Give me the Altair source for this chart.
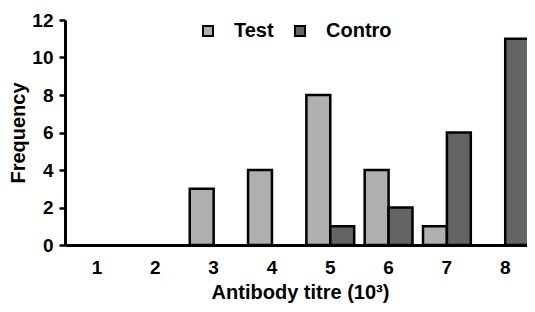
import altair as alt
import pandas as pd

categories = ["1", "2", "3", "4", "5", "6", "7", "8"]
test_values = [0, 0, 3, 4, 8, 4, 1, 0]
control_values = [0, 0, 0, 0, 1, 2, 6, 11]
series_names = ["Test", "Contro"]
series_colors = ["#afafaf", "#646464"]
y_ticks = [0, 2, 4, 6, 8, 10, 12]

rows = []
for c, t, k in zip(categories, test_values, control_values):
    rows.append({"titre": c, "group": series_names[0], "freq": t})
    rows.append({"titre": c, "group": series_names[1], "freq": k})
df = pd.DataFrame(rows)

FONT = "Liberation Sans"

chart = alt.Chart(df).transform_filter(
    alt.datum.freq > 0
).mark_bar(stroke="black", strokeWidth=2.5).encode(
    x=alt.X("titre:N", sort=categories,
            scale=alt.Scale(domain=categories, range=[0, 470], paddingInner=0.18,
                            paddingOuter=0.12, align=0.58),
            axis=alt.Axis(title="Antibody titre (10³)", labelAngle=0, ticks=False,
                          labelPadding=13, titlePadding=5)),
    xOffset=alt.XOffset("group:N", sort=series_names,
                        scale=alt.Scale(domain=series_names, paddingInner=0, paddingOuter=0)),
    y=alt.Y("freq:Q", scale=alt.Scale(domain=[0, 12], nice=False),
            axis=alt.Axis(title="Frequency", values=y_ticks, grid=False,
                          tickSize=6, tickWidth=2.5, labelPadding=6, titlePadding=3,
                          titleFontSize=20)),
    color=alt.Color("group:N", sort=series_names,
                    scale=alt.Scale(domain=series_names, range=series_colors),
                    legend=alt.Legend(title=None, orient="none", direction="horizontal",
                                      legendX=133, legendY=1, symbolType="square",
                                      symbolSize=100, symbolStrokeColor="black",
                                      symbolStrokeWidth=2, labelFontSize=20,
                                      labelFont=FONT, labelFontWeight="bold",
                                      labelOffset=16, columnPadding=16)),
).properties(
    width=462, height=225,
    autosize=alt.AutoSizeParams(type="none"),
    padding={"left": 57, "top": 12, "right": 0, "bottom": 59},
).configure_view(stroke=None).configure_axis(
    domainColor="black", domainWidth=3, tickColor="black",
    labelFont=FONT, labelFontSize=19, labelFontWeight="bold", labelColor="black",
    titleFont=FONT, titleFontSize=20, titleFontWeight="bold", titleColor="black",
)

chart.save("out.html", embed_options={"renderer": "svg", "actions": False})
